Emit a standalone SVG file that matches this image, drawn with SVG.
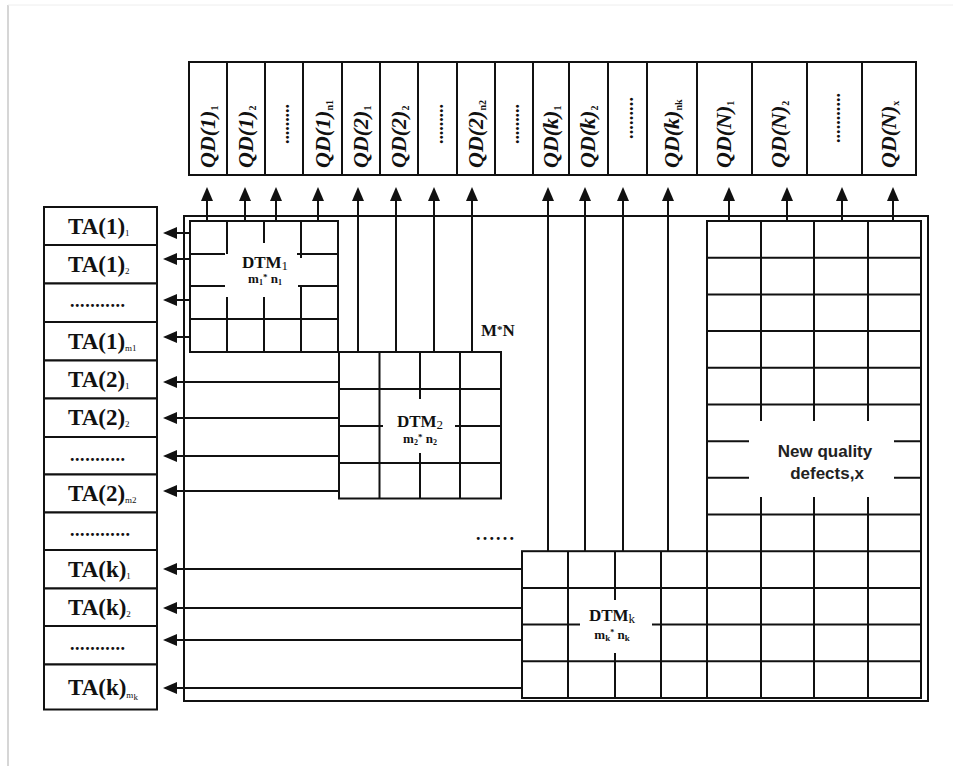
<svg xmlns="http://www.w3.org/2000/svg" width="953" height="766" viewBox="0 0 953 766">
<style>
.ln{stroke:#111;stroke-width:2;fill:none}
.box{stroke:#111;stroke-width:2;fill:#fff}
.ta{font-family:"Liberation Serif",serif;font-weight:bold;font-size:23px;fill:#111}
.sub{font-size:9px;font-weight:normal}
.qd{font-family:"Liberation Serif",serif;font-weight:bold;font-style:italic;font-size:22px;fill:#111}
.qs{font-size:10px;font-style:normal}
.dots{font-family:"Liberation Serif",serif;font-weight:bold;font-size:18px;fill:#111}
.dtm{font-family:"Liberation Serif",serif;font-weight:bold;font-size:17px;fill:#111}
.dtms{font-family:"Liberation Serif",serif;font-weight:bold;font-size:13px;fill:#111}
.nq{font-family:"Liberation Sans",Arial,sans-serif;font-weight:bold;font-size:17px;fill:#222}
</style>
<defs>
<marker id="ah" markerUnits="userSpaceOnUse" markerWidth="14" markerHeight="12" refX="6" refY="6" orient="auto">
<path d="M0,0 L14,6 L0,12 z" fill="#111"/>
</marker>
</defs>
<rect width="953" height="766" fill="#fff"/>
<line x1="8" y1="5" x2="8" y2="766" stroke="#c8c8c8" stroke-width="1.5"/>
<line x1="8" y1="5" x2="953" y2="5" stroke="#eeeeee" stroke-width="1"/>

<!-- Header QD columns -->
<g id="qd-header">
<g id="qd1"><rect class="box" x="189" y="62" width="38" height="113"/><text class="qd" transform="translate(215,168) rotate(-90)">QD(1)<tspan class="qs" dy="3">1</tspan></text></g>
<g id="qd2"><rect class="box" x="227" y="62" width="38" height="113"/><text class="qd" transform="translate(253,168) rotate(-90)">QD(1)<tspan class="qs" dy="3">2</tspan></text></g>
<g id="qd3"><rect class="box" x="265" y="62" width="38" height="113"/><text class="dots" text-anchor="middle" transform="translate(289,124) rotate(-90)" textLength="40" lengthAdjust="spacing">.........</text></g>
<g id="qd4"><rect class="box" x="303" y="62" width="39" height="113"/><text class="qd" transform="translate(330,168) rotate(-90)">QD(1)<tspan class="qs" dy="3">n1</tspan></text></g>
<g id="qd5"><rect class="box" x="342" y="62" width="38" height="113"/><text class="qd" transform="translate(368,168) rotate(-90)">QD(2)<tspan class="qs" dy="3">1</tspan></text></g>
<g id="qd6"><rect class="box" x="380" y="62" width="38" height="113"/><text class="qd" transform="translate(406,168) rotate(-90)">QD(2)<tspan class="qs" dy="3">2</tspan></text></g>
<g id="qd7"><rect class="box" x="418" y="62" width="39" height="113"/><text class="dots" text-anchor="middle" transform="translate(443,124) rotate(-90)" textLength="40" lengthAdjust="spacing">.........</text></g>
<g id="qd8"><rect class="box" x="457" y="62" width="38" height="113"/><text class="qd" transform="translate(483,168) rotate(-90)">QD(2)<tspan class="qs" dy="3">n2</tspan></text></g>
<g id="qd9"><rect class="box" x="495" y="62" width="38" height="113"/><text class="dots" text-anchor="middle" transform="translate(519,124) rotate(-90)" textLength="40" lengthAdjust="spacing">.........</text></g>
<g id="qd10"><rect class="box" x="533" y="62" width="36" height="113"/><text class="qd" transform="translate(558,168) rotate(-90)">QD(k)<tspan class="qs" dy="3">1</tspan></text></g>
<g id="qd11"><rect class="box" x="569" y="62" width="39" height="113"/><text class="qd" transform="translate(595,168) rotate(-90)">QD(k)<tspan class="qs" dy="3">2</tspan></text></g>
<g id="qd12"><rect class="box" x="608" y="62" width="39" height="113"/><text class="dots" text-anchor="middle" transform="translate(633,118) rotate(-90)" textLength="42" lengthAdjust="spacing">.........</text></g>
<g id="qd13"><rect class="box" x="647" y="62" width="50" height="113"/><text class="qd" transform="translate(679,168) rotate(-90)">QD(k)<tspan class="qs" dy="3">nk</tspan></text></g>
<g id="qd14"><rect class="box" x="697" y="62" width="55" height="113"/><text class="qd" transform="translate(731,168) rotate(-90)">QD(N)<tspan class="qs" dy="3">1</tspan></text></g>
<g id="qd15"><rect class="box" x="752" y="62" width="55" height="113"/><text class="qd" transform="translate(786,168) rotate(-90)">QD(N)<tspan class="qs" dy="3">2</tspan></text></g>
<g id="qd16"><rect class="box" x="807" y="62" width="55" height="113"/><text class="dots" text-anchor="middle" transform="translate(840,118) rotate(-90)" textLength="50" lengthAdjust="spacing">...........</text></g>
<g id="qd17"><rect class="box" x="862" y="62" width="54" height="113"/><text class="qd" transform="translate(896,168) rotate(-90)">QD(N)<tspan class="qs" dy="3">x</tspan></text></g>
</g>

<!-- Left TA column -->
<g id="ta-column">
<g id="ta1"><rect class="box" x="44" y="207" width="113" height="38"/><text class="ta" x="68" y="234">TA(1)<tspan class="sub" dy="2">1</tspan></text></g>
<g id="ta2"><rect class="box" x="44" y="245" width="113" height="38.5"/><text class="ta" x="68" y="272">TA(1)<tspan class="sub" dy="2">2</tspan></text></g>
<g id="ta3"><rect class="box" x="44" y="283.5" width="113" height="38.5"/><text class="dots" x="70" y="307" textLength="55" lengthAdjust="spacing">...........</text></g>
<g id="ta4"><rect class="box" x="44" y="322" width="113" height="38.5"/><text class="ta" x="68" y="349">TA(1)<tspan class="sub" dy="2">m1</tspan></text></g>
<g id="ta5"><rect class="box" x="44" y="360.5" width="113" height="38"/><text class="ta" x="68" y="387">TA(2)<tspan class="sub" dy="2">1</tspan></text></g>
<g id="ta6"><rect class="box" x="44" y="398.5" width="113" height="38.5"/><text class="ta" x="68" y="425">TA(2)<tspan class="sub" dy="2">2</tspan></text></g>
<g id="ta7"><rect class="box" x="44" y="437" width="113" height="37.5"/><text class="dots" x="70" y="461" textLength="55" lengthAdjust="spacing">...........</text></g>
<g id="ta8"><rect class="box" x="44" y="474.5" width="113" height="38"/><text class="ta" x="68" y="501">TA(2)<tspan class="sub" dy="2">m2</tspan></text></g>
<g id="ta9"><rect class="box" x="44" y="512.5" width="113" height="37.5"/><text class="dots" x="70" y="536" textLength="60" lengthAdjust="spacing">............</text></g>
<g id="ta10"><rect class="box" x="44" y="550" width="113" height="38.5"/><text class="ta" x="68" y="577">TA(k)<tspan class="sub" dy="2">1</tspan></text></g>
<g id="ta11"><rect class="box" x="44" y="588.5" width="113" height="37.5"/><text class="ta" x="68" y="615">TA(k)<tspan class="sub" dy="2">2</tspan></text></g>
<g id="ta12"><rect class="box" x="44" y="626" width="113" height="38.5"/><text class="dots" x="70" y="650" textLength="55" lengthAdjust="spacing">...........</text></g>
<g id="ta13"><rect class="box" x="44" y="664.5" width="113" height="45"/><text class="ta" x="68" y="695">TA(k)<tspan class="sub" dy="3" font-size="11">m</tspan><tspan class="sub" dy="2">k</tspan></text></g>
</g>

<!-- Outer matrix frame M*N -->
<g id="matrix-frame">
<rect class="ln" x="184" y="216" width="744" height="485"/>
<text class="dtm" x="481" y="336" font-size="15">M<tspan font-size="11" dy="-3">*</tspan><tspan dy="3">N</tspan></text>
<text class="dots" x="476" y="540" textLength="38" lengthAdjust="spacing">......</text>
</g>

<!-- DTM1 -->
<g id="dtm1">
<rect class="ln" x="190" y="221" width="148" height="131"/>
<path class="ln" d="M227,221V254 M227,297V352 M264,221V243 M264,297V352 M301,221V258 M301,286V352 M190,254H225 M297,254H338 M190,286H225 M298,286H338 M190,319H338"/>
<text class="dtm" x="265" y="268" text-anchor="middle">DTM<tspan font-weight="normal" font-size="13" dy="2">1</tspan></text>
<text class="dtms" x="265" y="283" text-anchor="middle">m<tspan font-size="8" dy="2">1</tspan><tspan dy="-5" font-size="9">*</tspan><tspan dy="3"> n</tspan><tspan font-size="8" dy="2">1</tspan></text>
</g>

<!-- DTM2 -->
<g id="dtm2">
<rect class="ln" x="339" y="352" width="162" height="146.5"/>
<path class="ln" d="M379.5,352V498.5 M460,352V498.5 M420,352V399 M420,453V498.5 M339,389H501 M339,463H501 M339,426H383 M455,426H501"/>
<text class="dtm" x="420" y="427" text-anchor="middle">DTM<tspan font-weight="normal" font-size="13" dy="2">2</tspan></text>
<text class="dtms" x="420" y="443" text-anchor="middle">m<tspan font-size="8" dy="2">2</tspan><tspan dy="-5" font-size="9">*</tspan><tspan dy="3"> n</tspan><tspan font-size="8" dy="2">2</tspan></text>
</g>

<!-- DTMk -->
<g id="dtmk">
<rect class="ln" x="522" y="551.2" width="185" height="146.8"/>
<path class="ln" d="M568,551.2V698 M661,551.2V698 M615,551.2V600 M615,653V698 M522,587.9H707 M522,661.3H707 M522,624.6H580 M652,624.6H707"/>
<text class="dtm" x="612" y="621" text-anchor="middle">DTM<tspan font-weight="normal" font-size="13" dy="2">k</tspan></text>
<text class="dtms" x="612" y="639" text-anchor="middle" font-weight="normal">m<tspan font-weight="bold" font-size="9" dy="2">k</tspan><tspan dy="-6" font-size="8">*</tspan><tspan dy="4"> n</tspan><tspan font-weight="bold" font-size="9" dy="2">k</tspan></text>
</g>

<!-- New quality defects -->
<g id="new-quality">
<rect class="ln" x="707" y="221" width="214" height="477"/>
<path class="ln" d="M761,221V421 M761,497V698 M814,221V421 M814,497V698 M868,221V421 M868,497V698 M707,257.7H921 M707,294.4H921 M707,331.1H921 M707,367.8H921 M707,404.5H921 M707,514.5H921 M707,551.2H921 M707,587.9H921 M707,624.6H921 M707,661.3H921 M707,441.2H749 M894,441.2H921 M707,477.8H749 M894,477.8H921"/>
<text class="nq" x="825" y="457" text-anchor="middle">New quality</text>
<text class="nq" x="827" y="479" text-anchor="middle">defects,x</text>
</g>

<!-- Connectors -->
<g id="connectors" class="ln" marker-end="url(#ah)">
<line x1="207" y1="221" x2="207" y2="195"/>
<line x1="245" y1="221" x2="245" y2="195"/>
<line x1="276" y1="221" x2="276" y2="195"/>
<line x1="318" y1="221" x2="318" y2="195"/>
<line x1="358" y1="352" x2="358" y2="195"/>
<line x1="396" y1="352" x2="396" y2="195"/>
<line x1="434" y1="352" x2="434" y2="195"/>
<line x1="472" y1="352" x2="472" y2="195"/>
<line x1="548" y1="551" x2="548" y2="195"/>
<line x1="585" y1="551" x2="585" y2="195"/>
<line x1="623" y1="551" x2="623" y2="195"/>
<line x1="668" y1="551" x2="668" y2="195"/>
<line x1="729" y1="221" x2="729" y2="195"/>
<line x1="787" y1="221" x2="787" y2="195"/>
<line x1="842" y1="221" x2="842" y2="195"/>
<line x1="893" y1="221" x2="893" y2="195"/>
<line x1="190" y1="233" x2="171" y2="233"/>
<line x1="190" y1="259" x2="171" y2="259"/>
<line x1="190" y1="300" x2="171" y2="300"/>
<line x1="190" y1="337" x2="171" y2="337"/>
<line x1="339" y1="382" x2="171" y2="382"/>
<line x1="339" y1="418" x2="171" y2="418"/>
<line x1="339" y1="456" x2="171" y2="456"/>
<line x1="339" y1="491" x2="171" y2="491"/>
<line x1="522" y1="569" x2="171" y2="569"/>
<line x1="522" y1="608" x2="171" y2="608"/>
<line x1="522" y1="640" x2="171" y2="640"/>
<line x1="522" y1="688" x2="171" y2="688"/>
</g>
</svg>
